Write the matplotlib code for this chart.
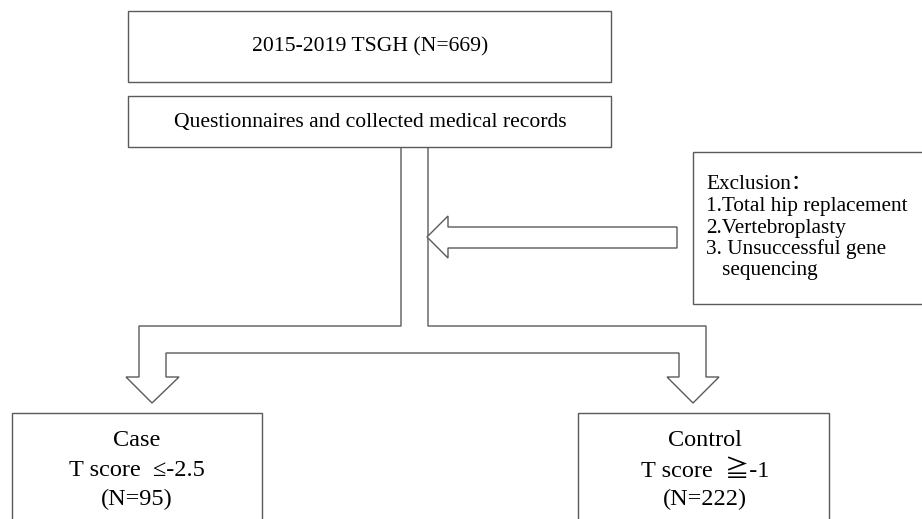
import matplotlib
matplotlib.use("Agg")
import matplotlib.pyplot as plt
from matplotlib.patches import Rectangle, Polygon

# ---- content ----
title_text = "2015-2019 TSGH (N=669)"
step_text = "Questionnaires and collected medical records"
exclusion_lines = ["Exclusion\uff1a", "1.Total hip replacement", "2.Vertebroplasty",
                   "3. Unsuccessful gene", "   sequencing"]
group_names = ["Case", "Control"]
group_criteria = ["T score  \u2264-2.5", "T score  \u2267-1"]
group_counts = [95, 222]

FAM = ["Liberation Serif", "Noto Sans CJK SC", "DejaVu Sans"]
EC = "#5a5a5a"
LW = 1.0

fig = plt.figure(figsize=(9.22, 5.19), dpi=100)
ax = fig.add_axes([0, 0, 1, 1])
ax.set_xlim(0, 922)
ax.set_ylim(519, 0)
ax.axis("off")

def box(x0, y0, x1, y1):
    ax.add_patch(Rectangle((x0, y0), x1 - x0, y1 - y0, fill=True, facecolor="white",
                           edgecolor=EC, lw=LW, zorder=2))

# top boxes
box(128, 11, 611, 82)
box(128, 96, 611, 147)
ax.text(370, 47, title_text, ha="center", va="center", fontsize=15.6, family=FAM, zorder=3)
ax.text(370, 123, step_text, ha="center", va="center", fontsize=15.6, family=FAM, zorder=3)

# branching arrow shape
branch = [(401, 147), (401, 326), (139, 326), (139, 377), (126, 377), (152, 403),
          (179, 377), (166, 377), (166, 353), (679, 353), (679, 377), (667, 377),
          (693, 403), (719, 377), (706, 377), (706, 326), (428, 326), (428, 147)]
ax.add_patch(Polygon(branch, closed=False, fill=False, edgecolor=EC, lw=LW, zorder=2,
                     joinstyle="miter"))

# exclusion arrow (pointing left)
excl_arrow = [(427, 237), (448, 216), (448, 227), (677, 227), (677, 248),
              (448, 248), (448, 258)]
ax.add_patch(Polygon(excl_arrow, closed=True, facecolor="white", edgecolor=EC, lw=LW,
                     zorder=2, joinstyle="miter"))

# exclusion box
box(693, 152, 930, 304)
ys = [184, 206, 228, 249, 270]
for line, y in zip(exclusion_lines, ys):
    ax.text(706, y, line, ha="left", va="center", fontsize=15.3, family=FAM, zorder=3)

# bottom boxes
box(12, 413, 262, 530)
box(578, 413, 829, 530)
centers = [137, 705]
for cx, name, crit, n in zip(centers, group_names, group_criteria, group_counts):
    ax.text(cx, 440, name, ha="center", va="center", fontsize=17.5, family=FAM, zorder=3)
    ax.text(cx, 471, crit, ha="center", va="center", fontsize=17.5, family=FAM, zorder=3)
    ax.text(cx, 499, f"(N={n})", ha="center", va="center", fontsize=17.5, family=FAM, zorder=3)

fig.savefig("out.png", dpi=100, facecolor="white")
